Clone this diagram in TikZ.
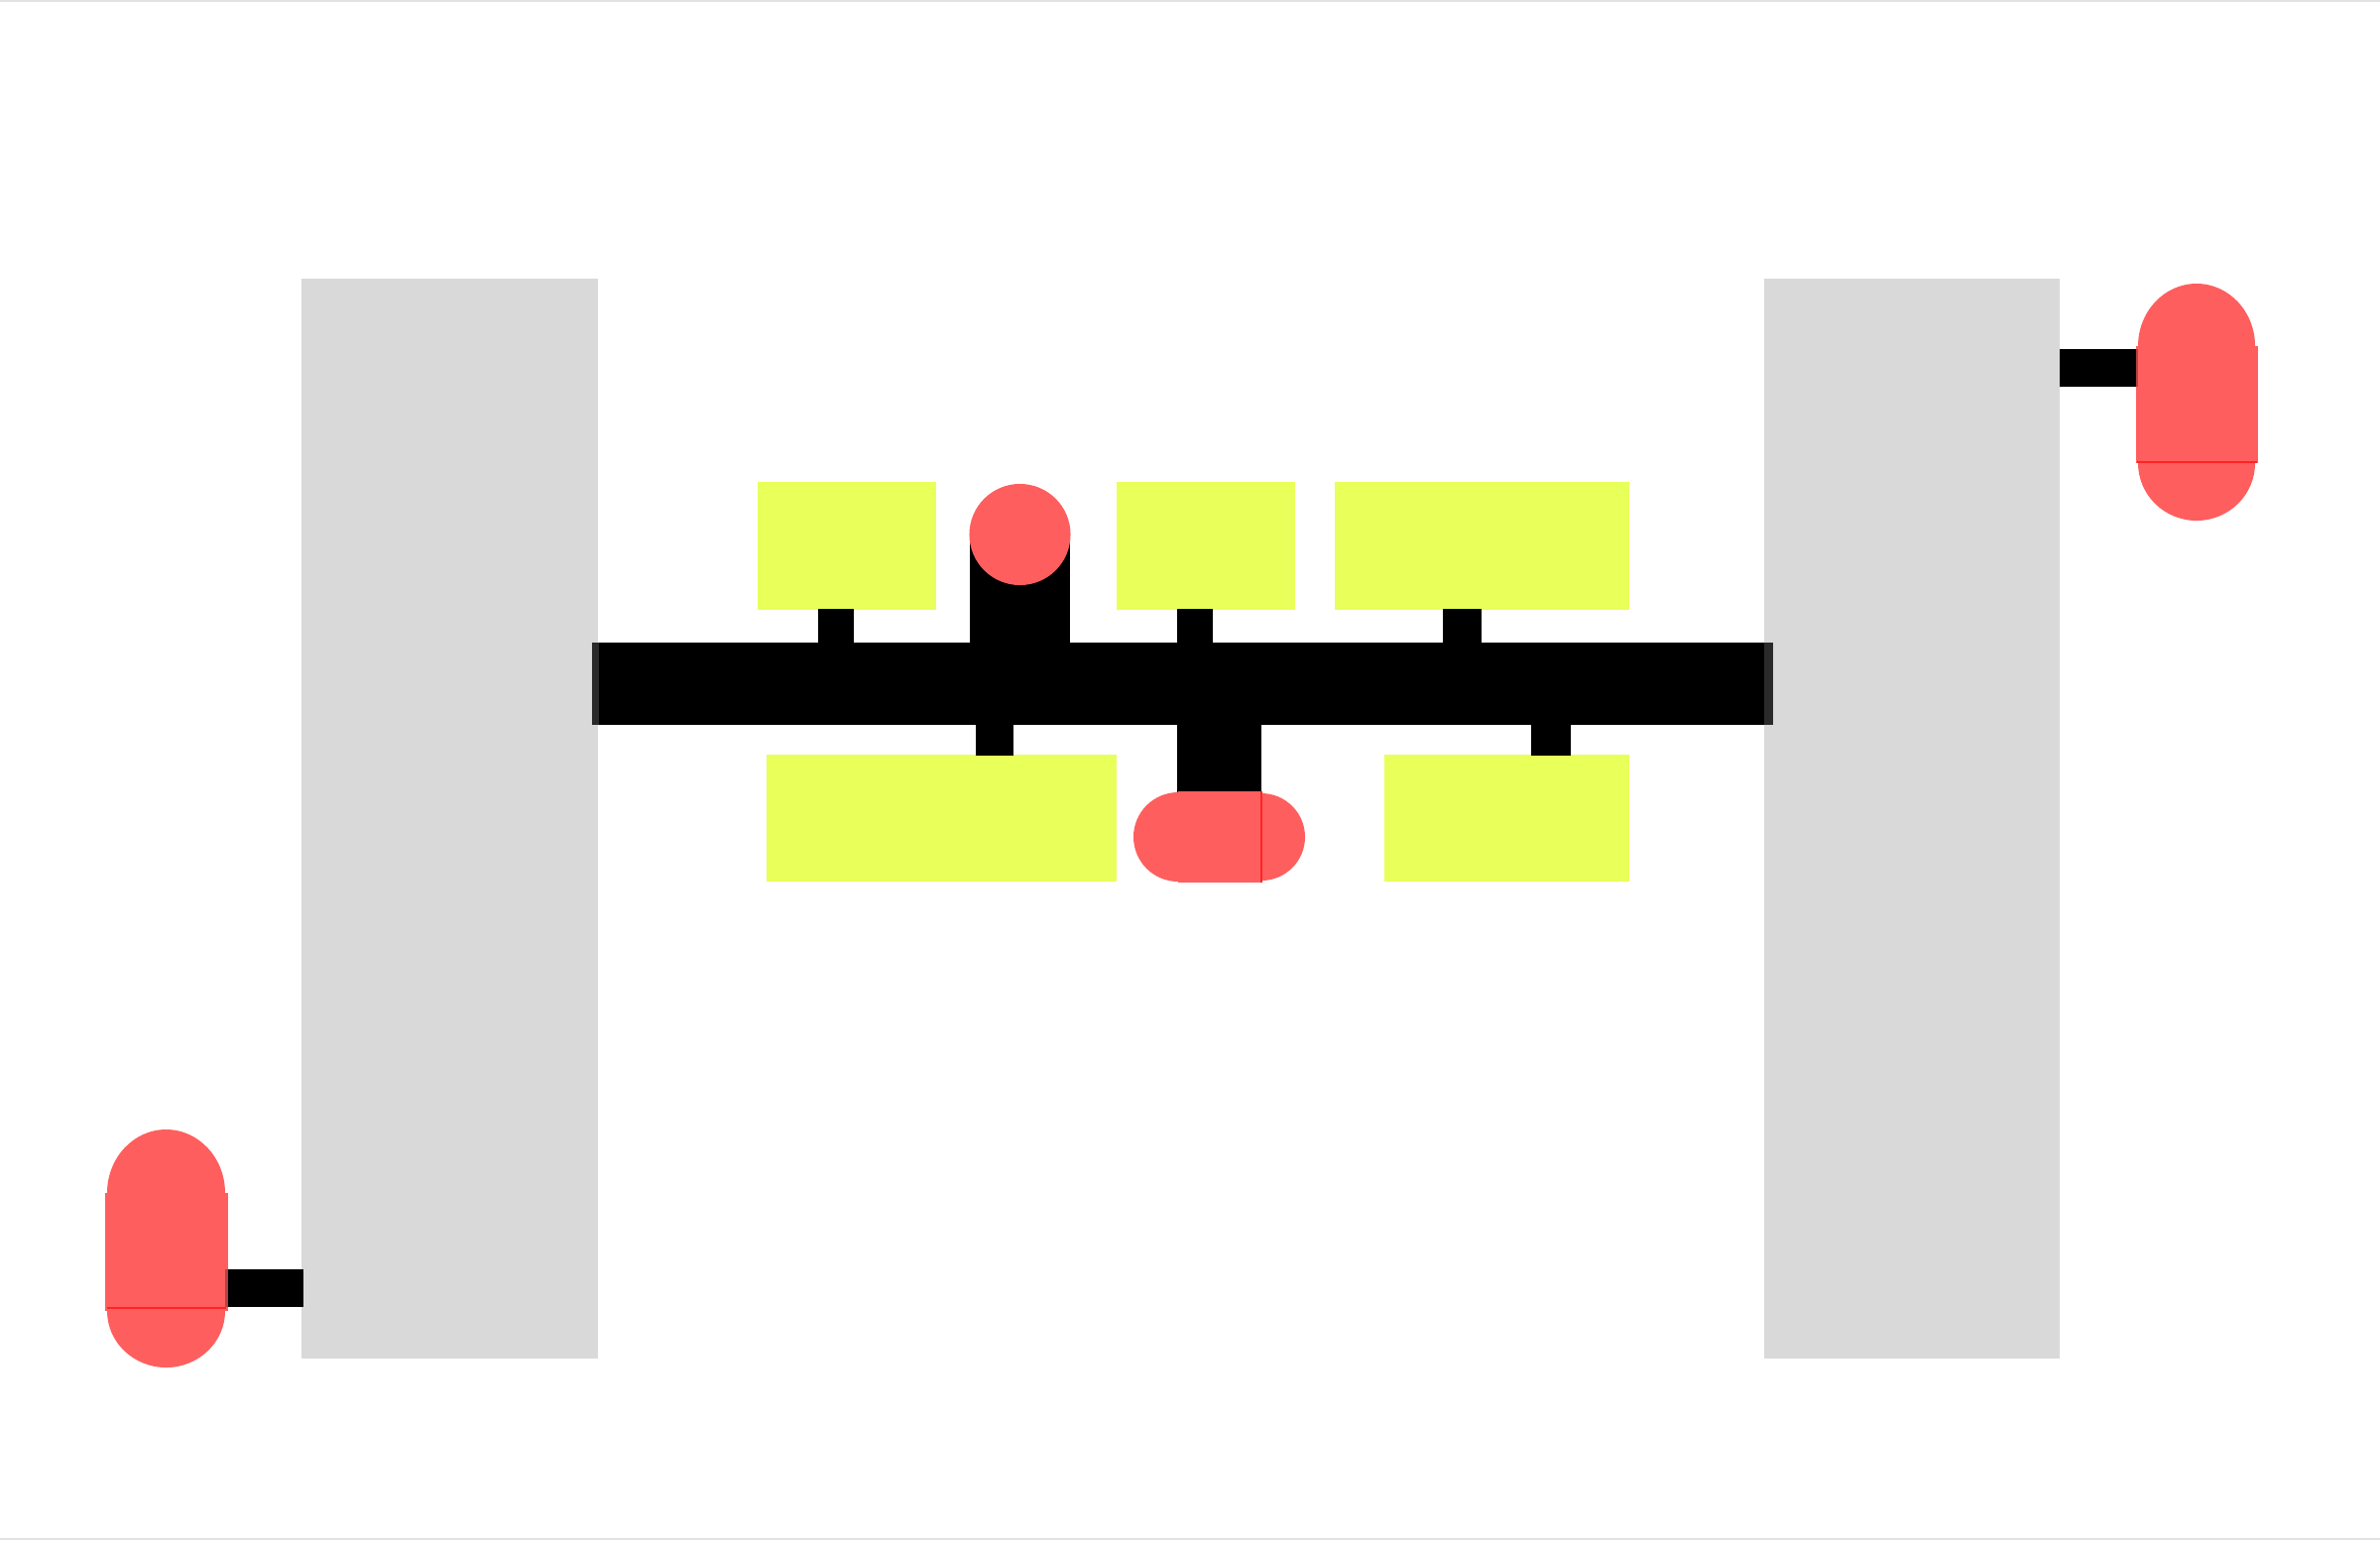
\documentclass[tikz,border=0pt]{standalone}
\definecolor{gbox}{HTML}{D9D9D9}
\definecolor{ybox}{HTML}{E9FF5A}
\definecolor{rshape}{HTML}{FF5E5E}
\definecolor{rline}{HTML}{FF2424}
\definecolor{overlap}{HTML}{2A2A2A}
\definecolor{frame}{HTML}{E2E2E2}
\begin{document}
\begin{tikzpicture}[x=0.01cm,y=-0.01cm,
  blk/.style={draw=none,inner sep=0pt,outer sep=0pt},
  graybox/.style={blk,fill=gbox},
  yellowbox/.style={blk,fill=ybox},
  barbox/.style={blk,fill=black},
  stem/.style={fill=black},
  redpart/.style={fill=rshape},
  redline/.style={draw=rline,line width=0.6pt}]
\useasboundingbox (0,0) rectangle (2400,1553);
\fill[white] (0,0) rectangle (2400,1553);
\fill[frame] (0,0) rectangle (2400,1.6);
\fill[frame] (0,1550.5) rectangle (2400,1553);
% gray columns
\node[graybox,minimum width=2.99cm,minimum height=10.89cm] (GL) at (453.5,825.5) {};
\node[graybox,minimum width=2.98cm,minimum height=10.89cm] (GR) at (1928,825.5) {};
% main bar
\node[barbox,minimum width=11.91cm,minimum height=0.83cm] (BAR) at (1192.5,689.5) {};
\fill[overlap] (597,648) rectangle (603.5,731);
\fill[overlap] (1779,648) rectangle (1788,731);
% yellow boxes
\node[yellowbox,minimum width=1.80cm,minimum height=1.29cm] (A) at (854,550.5) {};
\node[yellowbox,minimum width=1.80cm,minimum height=1.29cm] (B) at (1216,550.5) {};
\node[yellowbox,minimum width=2.97cm,minimum height=1.29cm] (C) at (1494.5,550.5) {};
\node[yellowbox,minimum width=3.53cm,minimum height=1.28cm] (D) at (949.5,825) {};
\node[yellowbox,minimum width=2.47cm,minimum height=1.28cm] (E) at (1519.5,825) {};
% stems
\fill[stem] (825,614) rectangle (861,648);
\fill[stem] (1187,614) rectangle (1223,648);
\fill[stem] (1455,614) rectangle (1494,648);
\fill[stem] (984,731) rectangle (1022,762);
\fill[stem] (1544,731) rectangle (1584,762);
% circle with thick stem
\fill[stem] (978,539) rectangle (1079,648);
\node[circle,blk,fill=rshape,minimum size=1.02cm] (CIRC) at (1028.5,539) {};
% thick stem below and stadium
\fill[stem] (1187,731) rectangle (1272,799);
\fill[redpart] (1188,844) circle[radius=45];
\fill[redpart] (1272,844) circle[radius=44];
\fill[redpart] (1188,798) rectangle (1273,890);
\draw[redline] (1272,798) -- (1272,890);
% top right capsule
\fill[stem] (2077,352) rectangle (2156,390);
\fill[redpart] (2215,349) ellipse[x radius=59, y radius=63];
\fill[redpart] (2215,467) ellipse[x radius=59, y radius=58];
\fill[redpart] (2154,349) rectangle (2277,467);
\fill[rshape!70!black] (2154,352) rectangle (2156,390);
\draw[redline] (2155,466) -- (2276,466);
% bottom left capsule
\fill[stem] (227,1280) rectangle (306,1318);
\fill[redpart] (167.5,1203) ellipse[x radius=59.5, y radius=64];
\fill[redpart] (167.5,1322) ellipse[x radius=59.5, y radius=57];
\fill[redpart] (106,1203) rectangle (230,1322);
\fill[rshape!70!black] (227,1280) rectangle (229.5,1318);
\draw[redline] (108,1319) -- (228,1319);
\end{tikzpicture}
\end{document}
